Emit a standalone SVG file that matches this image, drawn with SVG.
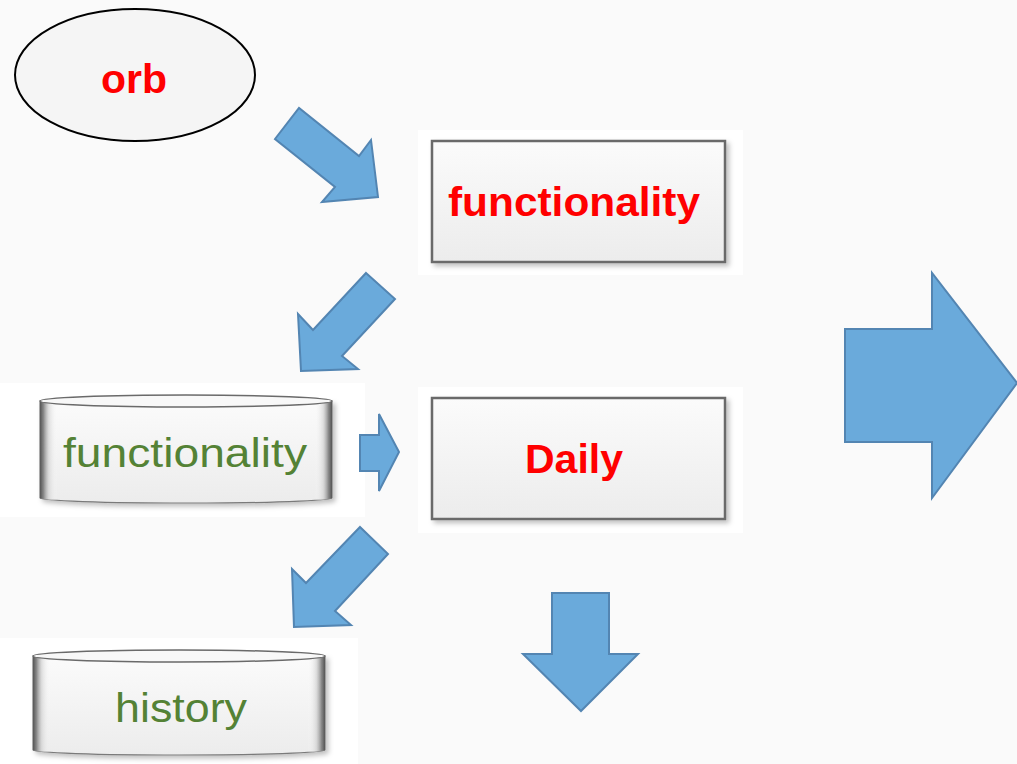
<svg xmlns="http://www.w3.org/2000/svg" width="1017" height="764" viewBox="0 0 1017 764">
<defs>
<style>
.arrow{fill:#6aaadb;stroke:#5385b2;stroke-width:2;stroke-linejoin:miter}
.panel{fill:#ffffff}
.box{fill:url(#boxg);stroke:#6a6a6a;stroke-width:2.5}
.red{font-family:"Liberation Sans",Arial,sans-serif;font-weight:bold;fill:#ff0000;font-size:41px}
.green{font-family:"Liberation Sans",Arial,sans-serif;fill:#548235;font-size:40px}
.cylbody{fill:url(#boxg);stroke:#7a7a7a;stroke-width:1.2}
.cyltop{fill:#f8f8f8;stroke:#6a6a6a;stroke-width:1.5}
</style>
<linearGradient id="boxg" x1="0" y1="0" x2="0" y2="1">
<stop offset="0" stop-color="#fbfbfb"/>
<stop offset="1" stop-color="#ececec"/>
</linearGradient>
<linearGradient id="edgeg" x1="0" y1="0" x2="1" y2="0">
<stop offset="0" stop-color="#555" stop-opacity="1"/>
<stop offset="0.012" stop-color="#888" stop-opacity="1"/>
<stop offset="0.03" stop-color="#ccc" stop-opacity="0.6"/>
<stop offset="0.06" stop-color="#fff" stop-opacity="0"/>
<stop offset="0.94" stop-color="#fff" stop-opacity="0"/>
<stop offset="0.97" stop-color="#ccc" stop-opacity="0.6"/>
<stop offset="0.988" stop-color="#888" stop-opacity="1"/>
<stop offset="1" stop-color="#555" stop-opacity="1"/>
</linearGradient>
<filter id="sh" x="-10%" y="-10%" width="125%" height="130%">
<feDropShadow dx="3" dy="3" stdDeviation="2.5" flood-color="#000" flood-opacity="0.25"/>
</filter>
</defs>
<rect x="0" y="0" width="1017" height="764" fill="#fafafa"/>

<g id="orb">
<ellipse cx="135" cy="75" rx="120" ry="66" fill="#f5f5f5" stroke="#000" stroke-width="2"/>
<text x="134" y="93" class="red" text-anchor="middle">orb</text>
</g>

<g id="functionality-box">
<rect class="panel" x="418" y="130" width="325" height="145"/>
<rect class="box" x="432" y="141" width="293" height="121" filter="url(#sh)"/>
<text x="448" y="216" class="red" textLength="252" lengthAdjust="spacingAndGlyphs">functionality</text>
</g>

<g id="daily-box">
<rect class="panel" x="418" y="387" width="325" height="146"/>
<rect class="box" x="432" y="398" width="293" height="121" filter="url(#sh)"/>
<text x="574" y="473" class="red" text-anchor="middle">Daily</text>
</g>

<g id="functionality-db">
<rect class="panel" x="0" y="383" width="365" height="134"/>
<g filter="url(#sh)">
<path class="cylbody" d="M40,401 L40,498 A146,5 0 0 0 332,498 L332,401 Z"/>
<path d="M40,401 L40,498 A146,5 0 0 0 332,498 L332,401 Z" fill="url(#edgeg)"/>
</g>
<ellipse class="cyltop" cx="186" cy="401" rx="146" ry="6"/>
<text x="63" y="467" class="green" textLength="244" lengthAdjust="spacingAndGlyphs">functionality</text>
</g>

<g id="history-db">
<rect class="panel" x="0" y="638" width="358" height="126"/>
<g filter="url(#sh)">
<path class="cylbody" d="M33,656 L33,750 A146,5 0 0 0 325,750 L325,656 Z"/>
<path d="M33,656 L33,750 A146,5 0 0 0 325,750 L325,656 Z" fill="url(#edgeg)"/>
</g>
<ellipse class="cyltop" cx="179" cy="656" rx="146" ry="6"/>
<text x="115" y="722" class="green" textLength="132" lengthAdjust="spacingAndGlyphs">history</text>
</g>

<g id="connectors">
<polygon class="arrow" points="275,139 299,108 359,156 371,140 378,197 322,202 335,187"/>
<polygon class="arrow" points="366,273 395,299 342,356 358,369 301,371 298,314 313,330"/>
<polygon class="arrow" points="360,435 379,435 379,414 399,452 379,491 379,471 360,471"/>
<polygon class="arrow" points="360,527 388,554 335,611 351,625 294,627 292,569 306,583"/>
<polygon class="arrow" points="552,593 609,593 609,654 638,654 581,711 523,654 552,654"/>
<polygon class="arrow" points="845,329 932,329 932,273 1017,383 932,498 932,442 845,442"/>
</g>
</svg>
